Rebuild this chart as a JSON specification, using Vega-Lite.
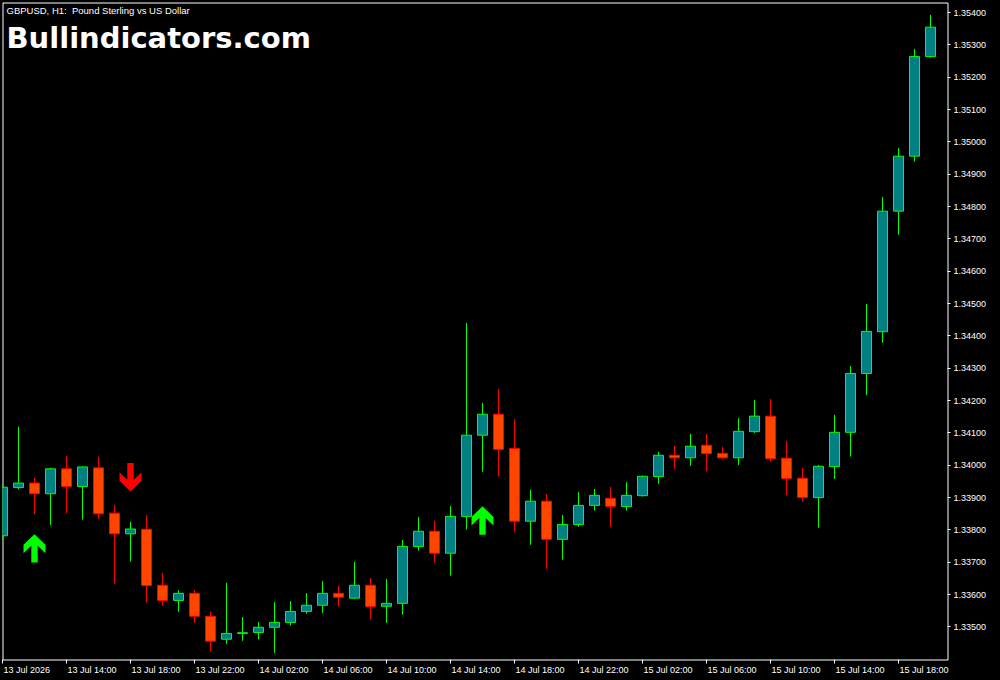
{
  "$schema": "https://vega.github.io/schema/vega-lite/v6.json",
  "width": 945,
  "height": 657,
  "autosize": {"type": "none"},
  "padding": {"left": 2.5, "top": 2.5, "right": 52.5, "bottom": 20.5},
  "background": "#000000",
  "title": {
    "text": "GBPUSD, H1:\u00a0 Pound Sterling vs US Dollar",
    "subtitle": "Bullindicators.com",
    "anchor": "start",
    "frame": "group",
    "orient": "top",
    "offset": -51,
    "dx": 4,
    "color": "#FFFFFF",
    "font": "Liberation Sans",
    "fontSize": 9.5,
    "fontWeight": "normal",
    "subtitleColor": "#FFFFFF",
    "subtitleFont": "DejaVu Sans",
    "subtitleFontSize": 29,
    "subtitleFontWeight": "bold",
    "subtitlePadding": 9
  },
  "datasets": {
    "candles": [
      {"t": "2026-07-13T10:00:00", "open": 1.33782, "high": 1.33942, "low": 1.33769, "close": 1.33932},
      {"t": "2026-07-13T11:00:00", "open": 1.33931, "high": 1.34119, "low": 1.33925, "close": 1.33945},
      {"t": "2026-07-13T12:00:00", "open": 1.33945, "high": 1.33961, "low": 1.33849, "close": 1.33912},
      {"t": "2026-07-13T13:00:00", "open": 1.33912, "high": 1.33992, "low": 1.33815, "close": 1.33989},
      {"t": "2026-07-13T14:00:00", "open": 1.33989, "high": 1.34029, "low": 1.33852, "close": 1.33934},
      {"t": "2026-07-13T15:00:00", "open": 1.33934, "high": 1.33996, "low": 1.33832, "close": 1.33995},
      {"t": "2026-07-13T16:00:00", "open": 1.33992, "high": 1.34026, "low": 1.33834, "close": 1.33850},
      {"t": "2026-07-13T17:00:00", "open": 1.33852, "high": 1.33877, "low": 1.33634, "close": 1.33788},
      {"t": "2026-07-13T18:00:00", "open": 1.33788, "high": 1.33825, "low": 1.33702, "close": 1.33803},
      {"t": "2026-07-13T19:00:00", "open": 1.33802, "high": 1.33846, "low": 1.33575, "close": 1.33628},
      {"t": "2026-07-13T20:00:00", "open": 1.33629, "high": 1.33667, "low": 1.33566, "close": 1.33582},
      {"t": "2026-07-13T21:00:00", "open": 1.33582, "high": 1.33614, "low": 1.33547, "close": 1.33604},
      {"t": "2026-07-13T22:00:00", "open": 1.33604, "high": 1.33614, "low": 1.33513, "close": 1.33533},
      {"t": "2026-07-13T23:00:00", "open": 1.33533, "high": 1.33548, "low": 1.33423, "close": 1.33456},
      {"t": "2026-07-14T00:00:00", "open": 1.33462, "high": 1.33636, "low": 1.33448, "close": 1.33480},
      {"t": "2026-07-14T01:00:00", "open": 1.33480, "high": 1.33531, "low": 1.33457, "close": 1.33482},
      {"t": "2026-07-14T02:00:00", "open": 1.33483, "high": 1.33515, "low": 1.33461, "close": 1.33499},
      {"t": "2026-07-14T03:00:00", "open": 1.33499, "high": 1.33577, "low": 1.33420, "close": 1.33514},
      {"t": "2026-07-14T04:00:00", "open": 1.33514, "high": 1.33580, "low": 1.33504, "close": 1.33548},
      {"t": "2026-07-14T05:00:00", "open": 1.33548, "high": 1.33605, "low": 1.33541, "close": 1.33567},
      {"t": "2026-07-14T06:00:00", "open": 1.33567, "high": 1.33642, "low": 1.33544, "close": 1.33604},
      {"t": "2026-07-14T07:00:00", "open": 1.33604, "high": 1.33627, "low": 1.33563, "close": 1.33592},
      {"t": "2026-07-14T08:00:00", "open": 1.33589, "high": 1.33701, "low": 1.33588, "close": 1.33629},
      {"t": "2026-07-14T09:00:00", "open": 1.33629, "high": 1.33651, "low": 1.33522, "close": 1.33563},
      {"t": "2026-07-14T10:00:00", "open": 1.33564, "high": 1.33648, "low": 1.33513, "close": 1.33573},
      {"t": "2026-07-14T11:00:00", "open": 1.33573, "high": 1.33769, "low": 1.33538, "close": 1.33749},
      {"t": "2026-07-14T12:00:00", "open": 1.33749, "high": 1.33840, "low": 1.33736, "close": 1.33796},
      {"t": "2026-07-14T13:00:00", "open": 1.33796, "high": 1.33828, "low": 1.33699, "close": 1.33728},
      {"t": "2026-07-14T14:00:00", "open": 1.33728, "high": 1.33874, "low": 1.33659, "close": 1.33842},
      {"t": "2026-07-14T15:00:00", "open": 1.33842, "high": 1.34440, "low": 1.33801, "close": 1.34093},
      {"t": "2026-07-14T16:00:00", "open": 1.34093, "high": 1.34193, "low": 1.33980, "close": 1.34158},
      {"t": "2026-07-14T17:00:00", "open": 1.34158, "high": 1.34236, "low": 1.33965, "close": 1.34049},
      {"t": "2026-07-14T18:00:00", "open": 1.34052, "high": 1.34143, "low": 1.33795, "close": 1.33827},
      {"t": "2026-07-14T19:00:00", "open": 1.33827, "high": 1.33924, "low": 1.33754, "close": 1.33889},
      {"t": "2026-07-14T20:00:00", "open": 1.33889, "high": 1.33911, "low": 1.33680, "close": 1.33771},
      {"t": "2026-07-14T21:00:00", "open": 1.33771, "high": 1.33846, "low": 1.33708, "close": 1.33817},
      {"t": "2026-07-14T22:00:00", "open": 1.33817, "high": 1.33917, "low": 1.33810, "close": 1.33876},
      {"t": "2026-07-14T23:00:00", "open": 1.33876, "high": 1.33927, "low": 1.33860, "close": 1.33907},
      {"t": "2026-07-15T00:00:00", "open": 1.33898, "high": 1.33933, "low": 1.33810, "close": 1.33873},
      {"t": "2026-07-15T01:00:00", "open": 1.33872, "high": 1.33948, "low": 1.33860, "close": 1.33907},
      {"t": "2026-07-15T02:00:00", "open": 1.33906, "high": 1.33968, "low": 1.33903, "close": 1.33966},
      {"t": "2026-07-15T03:00:00", "open": 1.33965, "high": 1.34041, "low": 1.33943, "close": 1.34031},
      {"t": "2026-07-15T04:00:00", "open": 1.34031, "high": 1.34060, "low": 1.33989, "close": 1.34023},
      {"t": "2026-07-15T05:00:00", "open": 1.34023, "high": 1.34097, "low": 1.33998, "close": 1.34059},
      {"t": "2026-07-15T06:00:00", "open": 1.34062, "high": 1.34097, "low": 1.33982, "close": 1.34036},
      {"t": "2026-07-15T07:00:00", "open": 1.34037, "high": 1.34057, "low": 1.34019, "close": 1.34023},
      {"t": "2026-07-15T08:00:00", "open": 1.34023, "high": 1.34146, "low": 1.34001, "close": 1.34105},
      {"t": "2026-07-15T09:00:00", "open": 1.34104, "high": 1.34202, "low": 1.34100, "close": 1.34152},
      {"t": "2026-07-15T10:00:00", "open": 1.34152, "high": 1.34205, "low": 1.34011, "close": 1.34020},
      {"t": "2026-07-15T11:00:00", "open": 1.34022, "high": 1.34075, "low": 1.33908, "close": 1.33959},
      {"t": "2026-07-15T12:00:00", "open": 1.33960, "high": 1.33992, "low": 1.33887, "close": 1.33900},
      {"t": "2026-07-15T13:00:00", "open": 1.33900, "high": 1.34001, "low": 1.33807, "close": 1.33997},
      {"t": "2026-07-15T14:00:00", "open": 1.33996, "high": 1.34156, "low": 1.33958, "close": 1.34102},
      {"t": "2026-07-15T15:00:00", "open": 1.34102, "high": 1.34307, "low": 1.34027, "close": 1.34284},
      {"t": "2026-07-15T16:00:00", "open": 1.34284, "high": 1.34499, "low": 1.34217, "close": 1.34414},
      {"t": "2026-07-15T17:00:00", "open": 1.34413, "high": 1.34830, "low": 1.34379, "close": 1.34786},
      {"t": "2026-07-15T18:00:00", "open": 1.34786, "high": 1.34981, "low": 1.34713, "close": 1.34956},
      {"t": "2026-07-15T19:00:00", "open": 1.34956, "high": 1.35288, "low": 1.34939, "close": 1.35264},
      {"t": "2026-07-15T20:00:00", "open": 1.35264, "high": 1.35393, "low": 1.35261, "close": 1.35355}
    ],
    "signals": [
      {"t": "2026-07-13T12:00:00", "signal": "buy", "price": 1.33743},
      {"t": "2026-07-13T18:00:00", "signal": "sell", "price": 1.33963},
      {"t": "2026-07-14T16:00:00", "signal": "buy", "price": 1.33829}
    ]
  },
  "encoding": {
    "x": {
      "field": "t",
      "type": "temporal",
      "title": null,
      "scale": {
        "nice": false,
        "padding": 0,
        "domain": [
          {"year": 2026, "month": 7, "date": 13, "hours": 10},
          {"year": 2026, "month": 7, "date": 15, "hours": 21, "minutes": 3, "seconds": 45}
        ]
      },
      "axis": {
        "values": [
          {"year": 2026, "month": 7, "date": 13, "hours": 10},
          {"year": 2026, "month": 7, "date": 13, "hours": 14},
          {"year": 2026, "month": 7, "date": 13, "hours": 18},
          {"year": 2026, "month": 7, "date": 13, "hours": 22},
          {"year": 2026, "month": 7, "date": 14, "hours": 2},
          {"year": 2026, "month": 7, "date": 14, "hours": 6},
          {"year": 2026, "month": 7, "date": 14, "hours": 10},
          {"year": 2026, "month": 7, "date": 14, "hours": 14},
          {"year": 2026, "month": 7, "date": 14, "hours": 18},
          {"year": 2026, "month": 7, "date": 14, "hours": 22},
          {"year": 2026, "month": 7, "date": 15, "hours": 2},
          {"year": 2026, "month": 7, "date": 15, "hours": 6},
          {"year": 2026, "month": 7, "date": 15, "hours": 10},
          {"year": 2026, "month": 7, "date": 15, "hours": 14},
          {"year": 2026, "month": 7, "date": 15, "hours": 18}
        ],
        "labelExpr": "datum.value < datetime(2026, 6, 13, 11) ? '13 Jul 2026' : timeFormat(datum.value, '%d %b %H:%M')",
        "labelAlign": "left",
        "labelBaseline": "top",
        "labelPadding": 2,
        "labelOffset": 1,
        "tickSize": 4,
        "labelOverlap": false,
        "labelFlush": false
      }
    },
    "y": {
      "field": "low",
      "type": "quantitative",
      "title": null,
      "scale": {"domain": [1.333993, 1.354313], "nice": false, "zero": false, "padding": 0},
      "axis": {
        "orient": "right",
        "values": [1.335, 1.336, 1.337, 1.338, 1.339, 1.34, 1.341, 1.342, 1.343, 1.344, 1.345, 1.346, 1.347, 1.348, 1.349, 1.35, 1.351, 1.352, 1.353, 1.354],
        "format": ".5f",
        "tickSize": 3,
        "labelPadding": 3,
        "labelAlign": "left",
        "labelBaseline": "middle",
        "labelOverlap": false
      }
    }
  },
  "layer": [
    {
      "data": {"name": "candles"},
      "mark": {"type": "rule", "strokeWidth": 1, "clip": true},
      "encoding": {
        "y2": {"field": "high"},
        "color": {
          "condition": {"test": "datum.close >= datum.open", "value": "#00FF00"},
          "value": "#FF0000"
        }
      }
    },
    {
      "data": {"name": "candles"},
      "mark": {"type": "bar", "size": 10, "strokeWidth": 1, "clip": true, "opacity": 1},
      "encoding": {
        "y": {"field": "open", "type": "quantitative", "title": null},
        "y2": {"field": "close"},
        "fill": {
          "condition": {"test": "datum.close >= datum.open", "value": "#008080"},
          "value": "#FF4500"
        },
        "stroke": {
          "condition": {"test": "datum.close >= datum.open", "value": "#00FF00"},
          "value": "#FF0000"
        }
      }
    },
    {
      "data": {"name": "signals"},
      "mark": {"type": "point", "filled": true, "size": 806, "opacity": 1, "strokeWidth": 0, "clip": true},
      "encoding": {
        "y": {"field": "price", "type": "quantitative", "title": null},
        "shape": {
          "field": "signal",
          "type": "nominal",
          "legend": null,
          "scale": {
            "domain": ["buy", "sell"],
            "range": [
              "M0,-1L0.775,-0.25L0.775,0.34L0.225,-0.18L0.225,1L-0.225,1L-0.225,-0.18L-0.775,0.34L-0.775,-0.25Z",
              "M0,1L0.775,0.25L0.775,-0.34L0.225,0.18L0.225,-1L-0.225,-1L-0.225,0.18L-0.775,-0.34L-0.775,0.25Z"
            ]
          }
        },
        "color": {
          "field": "signal",
          "type": "nominal",
          "legend": null,
          "scale": {"domain": ["buy", "sell"], "range": ["#00FF00", "#FF0000"]}
        }
      }
    }
  ],
  "config": {
    "background": "#000000",
    "view": {"stroke": "#FFFFFF", "strokeWidth": 1, "fill": "#000000"},
    "axis": {
      "domain": false,
      "grid": false,
      "ticks": true,
      "tickColor": "#FFFFFF",
      "tickWidth": 1,
      "labelColor": "#FFFFFF",
      "labelFont": "Liberation Sans",
      "labelFontSize": 9,
      "translate": 0
    },
    "axisY": {"labelOverlap": false},
    "axisX": {"labelOverlap": false}
  }
}
